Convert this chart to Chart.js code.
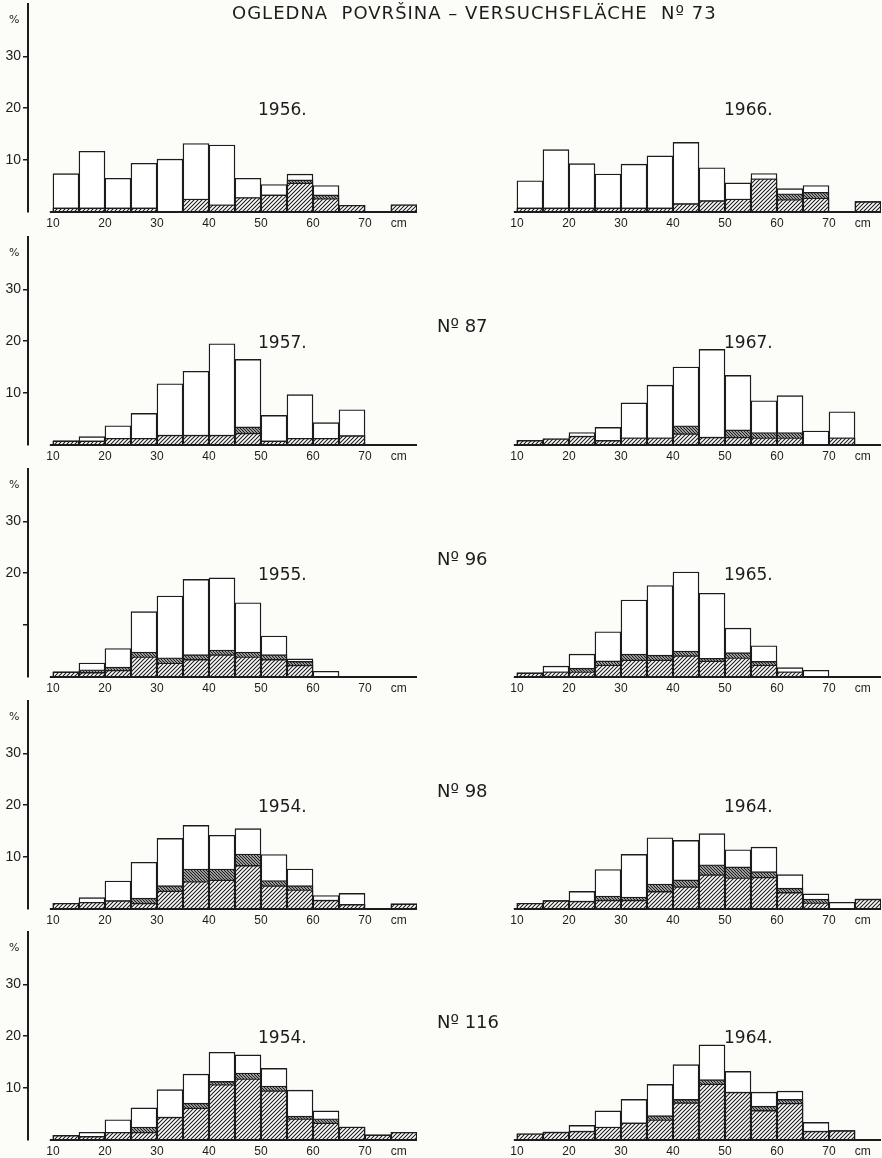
<!DOCTYPE html>
<html>
<head>
<meta charset="utf-8">
<script src="https://cdn.jsdelivr.net/npm/chart.js@4"></script>
<style>
  body { margin: 0; background: #fcfcf8; }
  #page { position: relative; width: 882px; height: 1158px; overflow: hidden; }
  .lbl { position: absolute; font-family: "DejaVu Sans", sans-serif; color: #1c1c1c; white-space: pre; line-height: 1; }
  canvas { position: absolute; }
</style>
</head>
<body>
<div id="page"></div>
<script>
// diameter classes, cm (bin centres, 5 cm wide, last one = over 75)
const binCentres = [12.5, 17.5, 22.5, 27.5, 32.5, 37.5, 42.5, 47.5, 52.5, 57.5, 62.5, 67.5, 72.5, 77.5];
const xTickValues = [10, 20, 30, 40, 50, 60, 70];
const yTickValues = [10, 20, 30];

// all = whole bar, band = top of hatched part, base = top of "////" part (%)
const p73_1956_all  = [7.4, 11.7, 6.5, 9.4, 10.2, 13.2, 12.9, 6.5, 5.3, 7.3, 5.1, 1.3, 0, 1.4];
const p73_1956_band = [0.8, 0.8, 0.8, 0.8, 0, 2.5, 1.4, 2.8, 3.3, 6.2, 3.3, 1.3, 0, 1.4];
const p73_1956_base = [0.8, 0.8, 0.8, 0.8, 0, 2.5, 1.4, 2.8, 3.3, 5.6, 2.6, 1.3, 0, 1.4];

const p73_1966_all  = [6.0, 12.0, 9.3, 7.3, 9.2, 10.8, 13.4, 8.5, 5.6, 7.4, 4.5, 5.1, 0, 2.0];
const p73_1966_band = [0.8, 0.8, 0.8, 0.8, 0.8, 0.8, 1.6, 2.2, 2.5, 6.4, 3.5, 3.8, 0, 2.0];
const p73_1966_base = [0.8, 0.8, 0.8, 0.8, 0.8, 0.8, 1.6, 2.2, 2.5, 6.4, 2.4, 2.7, 0, 2.0];

const p87_1957_all  = [0.8, 1.6, 3.7, 6.1, 11.8, 14.2, 19.5, 16.5, 5.7, 9.7, 4.3, 6.8, 0, 0];
const p87_1957_band = [0.8, 0.8, 1.3, 1.3, 1.9, 1.9, 1.9, 3.5, 0.8, 1.3, 1.3, 1.8, 0, 0];
const p87_1957_base = [0.8, 0.8, 1.3, 1.3, 1.9, 1.9, 1.9, 2.3, 0.8, 1.3, 1.3, 1.8, 0, 0];

const p87_1967_all  = [0.9, 1.2, 2.4, 3.4, 8.1, 11.5, 15.0, 18.4, 13.4, 8.5, 9.5, 2.7, 6.4, 0];
const p87_1967_band = [0.9, 1.2, 1.7, 0.9, 1.4, 1.4, 3.7, 1.5, 2.9, 2.4, 2.4, 0, 1.4, 0];
const p87_1967_base = [0.9, 1.2, 1.7, 0.9, 1.4, 1.4, 2.2, 1.5, 1.5, 1.4, 1.4, 0, 1.4, 0];

const p96_1955_all  = [1.0, 2.7, 5.5, 12.6, 15.6, 18.8, 19.1, 14.3, 7.9, 3.5, 1.1, 0, 0, 0];
const p96_1955_band = [1.0, 1.4, 1.9, 4.8, 3.7, 4.3, 5.2, 4.8, 4.3, 3.0, 0, 0, 0, 0];
const p96_1955_base = [1.0, 0.9, 1.3, 3.9, 2.7, 3.4, 4.3, 3.9, 3.4, 2.3, 0, 0, 0, 0];

const p96_1965_all  = [0.8, 2.1, 4.4, 8.7, 14.8, 17.6, 20.2, 16.1, 9.4, 6.0, 1.8, 1.3, 0, 0];
const p96_1965_band = [0.8, 1.0, 1.7, 3.1, 4.4, 4.2, 5.0, 3.6, 4.7, 3.0, 1.0, 0, 0, 0];
const p96_1965_base = [0.8, 1.0, 1.0, 2.3, 3.3, 3.3, 4.1, 3.1, 3.7, 2.3, 1.0, 0, 0, 0];

const p98_1954_all  = [1.1, 2.2, 5.4, 9.0, 13.6, 16.1, 14.2, 15.5, 10.5, 7.7, 2.6, 3.0, 0, 1.0];
const p98_1954_band = [1.1, 1.3, 1.6, 2.1, 4.5, 7.7, 7.7, 10.6, 5.5, 4.5, 1.7, 0.9, 0, 1.0];
const p98_1954_base = [1.1, 1.3, 1.6, 1.1, 3.5, 5.3, 5.6, 8.4, 4.5, 3.7, 1.7, 0.9, 0, 1.0];

const p98_1964_all  = [1.1, 1.6, 3.4, 7.6, 10.5, 13.7, 13.2, 14.5, 11.4, 11.9, 6.6, 2.9, 1.3, 1.9];
const p98_1964_band = [1.1, 1.6, 1.5, 2.5, 2.3, 4.8, 5.6, 8.5, 8.1, 7.2, 4.0, 1.9, 0, 1.9];
const p98_1964_base = [1.1, 1.6, 1.5, 1.7, 1.7, 3.4, 4.3, 6.6, 6.0, 6.1, 3.2, 1.2, 0, 1.9];

const p116_1954_all  = [0.9, 1.5, 3.9, 6.2, 9.7, 12.7, 16.9, 16.4, 13.8, 9.6, 5.6, 2.5, 1.0, 1.5];
const p116_1954_band = [0.9, 0.7, 1.5, 2.5, 4.4, 7.1, 11.3, 12.9, 10.4, 4.6, 4.1, 2.5, 1.0, 1.5];
const p116_1954_base = [0.9, 0.7, 1.5, 1.5, 4.4, 6.2, 10.7, 11.8, 9.5, 4.1, 3.3, 2.5, 1.0, 1.5];

const p116_1964_all  = [1.2, 1.5, 2.8, 5.6, 7.8, 10.7, 14.5, 18.3, 13.2, 9.2, 9.4, 3.4, 1.8, 0];
const p116_1964_band = [1.2, 1.5, 1.7, 2.5, 3.3, 4.7, 7.8, 11.6, 9.2, 6.5, 7.8, 1.7, 1.8, 0];
const p116_1964_base = [1.2, 1.5, 1.7, 2.5, 3.3, 3.9, 7.2, 10.8, 9.2, 5.7, 7.1, 1.7, 1.8, 0];

const ink = "#1c1c1c";
const page = document.getElementById("page");

// row baselines in px, left/right panels
const panels = [
    { left: true,  base: 212, year: "1956.", all: p73_1956_all,  band: p73_1956_band,  low: p73_1956_base },
    { left: false, base: 212, year: "1966.", all: p73_1966_all,  band: p73_1966_band,  low: p73_1966_base },
    { left: true,  base: 445, year: "1957.", all: p87_1957_all,  band: p87_1957_band,  low: p87_1957_base },
    { left: false, base: 445, year: "1967.", all: p87_1967_all,  band: p87_1967_band,  low: p87_1967_base },
    { left: true,  base: 677, year: "1955.", all: p96_1955_all,  band: p96_1955_band,  low: p96_1955_base, no10: true },
    { left: false, base: 677, year: "1965.", all: p96_1965_all,  band: p96_1965_band,  low: p96_1965_base },
    { left: true,  base: 909, year: "1954.", all: p98_1954_all,  band: p98_1954_band,  low: p98_1954_base },
    { left: false, base: 909, year: "1964.", all: p98_1964_all,  band: p98_1964_band,  low: p98_1964_base },
    { left: true,  base: 1140, year: "1954.", all: p116_1954_all, band: p116_1954_band, low: p116_1954_base },
    { left: false, base: 1140, year: "1964.", all: p116_1964_all, band: p116_1964_band, low: p116_1964_base }
];

function addText(text, x, cy, size) {
    const d = document.createElement("div");
    d.className = "lbl";
    d.textContent = text;
    d.style.left = x + "px";
    d.style.top = (cy - size * 0.55) + "px";
    d.style.fontSize = size + "px";
    page.appendChild(d);
    return d;
}

function hatch(dir, gap, width) {
    const c = document.createElement("canvas");
    c.width = gap;
    c.height = gap;
    const g = c.getContext("2d");
    g.fillStyle = "#fff";
    g.fillRect(0, 0, gap, gap);
    g.strokeStyle = ink;
    g.lineWidth = width;
    g.beginPath();
    if (dir > 0) {
        g.moveTo(-1, gap + 1); g.lineTo(gap + 1, -1);
        g.moveTo(-1, 1); g.lineTo(1, -1);
        g.moveTo(gap - 1, gap + 1); g.lineTo(gap + 1, gap - 1);
    } else {
        g.moveTo(-1, -1); g.lineTo(gap + 1, gap + 1);
        g.moveTo(gap - 1, -1); g.lineTo(gap + 1, 1);
        g.moveTo(-1, gap - 1); g.lineTo(1, gap + 1);
    }
    g.stroke();
    return g.createPattern(c, "repeat");
}

const fwdHatch = hatch(1, 4, 1.1);
const backHatch = hatch(-1, 3, 1.3);

function points(values) {
    return values.map((v, i) => ({ x: binCentres[i], y: v > 0 ? v : null }));
}

const baseline = {
    id: "baseline",
    afterDatasetsDraw(chart) {
        const { ctx, chartArea } = chart;
        const x = chart.scales.x, y = chart.scales.y;
        const y0 = y.getPixelForValue(0);
        ctx.save();
        ctx.strokeStyle = ink;
        ctx.lineWidth = 2;
        ctx.beginPath();
        ctx.moveTo(x.getPixelForValue(9.4), y0);
        ctx.lineTo(chartArea.right, y0);
        ctx.stroke();
        ctx.restore();
    }
};

function makeChart(p) {
    const canvas = document.createElement("canvas");
    canvas.width = p.left ? 430 : 441;
    canvas.height = 240;
    canvas.style.left = (p.left ? 0 : 441) + "px";
    canvas.style.top = (p.base - 218) + "px";
    page.appendChild(canvas);

    const barStyle = { borderColor: ink, borderWidth: 1.4, borderSkipped: false, barPercentage: 1, categoryPercentage: 1 };

    new Chart(canvas, {
        type: "bar",
        data: {
            datasets: [
                Object.assign({ data: points(p.all), backgroundColor: "#fff", order: 3 }, barStyle),
                Object.assign({ data: points(p.band), backgroundColor: backHatch, order: 2 }, barStyle),
                Object.assign({ data: points(p.low), backgroundColor: fwdHatch, order: 1 }, barStyle)
            ]
        },
        options: {
            responsive: false,
            animation: false,
            events: [],
            layout: { padding: { top: 10, bottom: 0, left: p.left ? 0 : 64, right: p.left ? 13 : 1 } },
            plugins: { legend: { display: false }, tooltip: { enabled: false } },
            scales: {
                x: {
                    type: "linear",
                    stacked: true,
                    offset: false,
                    min: p.left ? 5.2 : 7.7,
                    max: 80,
                    grid: { display: false, drawTicks: false },
                    border: { display: false },
                    afterBuildTicks: s => { s.ticks = xTickValues.concat([76.5]).map(v => ({ value: v })); },
                    ticks: {
                        autoSkip: false,
                        maxRotation: 0,
                        padding: 4,
                        color: ink,
                        font: { family: "Liberation Sans", size: 12 },
                        callback: v => v === 76.5 ? "cm" : v
                    },
                    afterFit: s => { s.height = 22; }
                },
                y: {
                    display: p.left,
                    stacked: false,
                    min: 0,
                    max: 40,
                    afterBuildTicks: s => { s.ticks = yTickValues.map(v => ({ value: v })); },
                    ticks: {
                        padding: 2,
                        color: ink,
                        font: { family: "Liberation Sans", size: 14 },
                        callback: v => (p.no10 && v === 10) ? "" : v
                    },
                    grid: { drawOnChartArea: false, tickLength: 5, color: ink, lineWidth: 1.5 },
                    border: { display: true, color: ink, width: 2 },
                    afterFit: s => { s.width = p.left ? 28 : 0; }
                }
            }
        },
        plugins: [baseline]
    });

    addText(p.year, p.left ? 258 : 724, p.base - 102, 17);
    if (p.left) addText("%", 9, p.base - 192, 11);
}

panels.forEach(makeChart);

const title = addText("OGLEDNA  POVRŠINA – VERSUCHSFLÄCHE  Nº 73", 232, 14, 18);
title.style.letterSpacing = "1px";
addText("Nº 87", 437, 327, 18);
addText("Nº 96", 437, 560, 18);
addText("Nº 98", 437, 792, 18);
addText("Nº 116", 437, 1023, 18);
</script>
</body>
</html>
